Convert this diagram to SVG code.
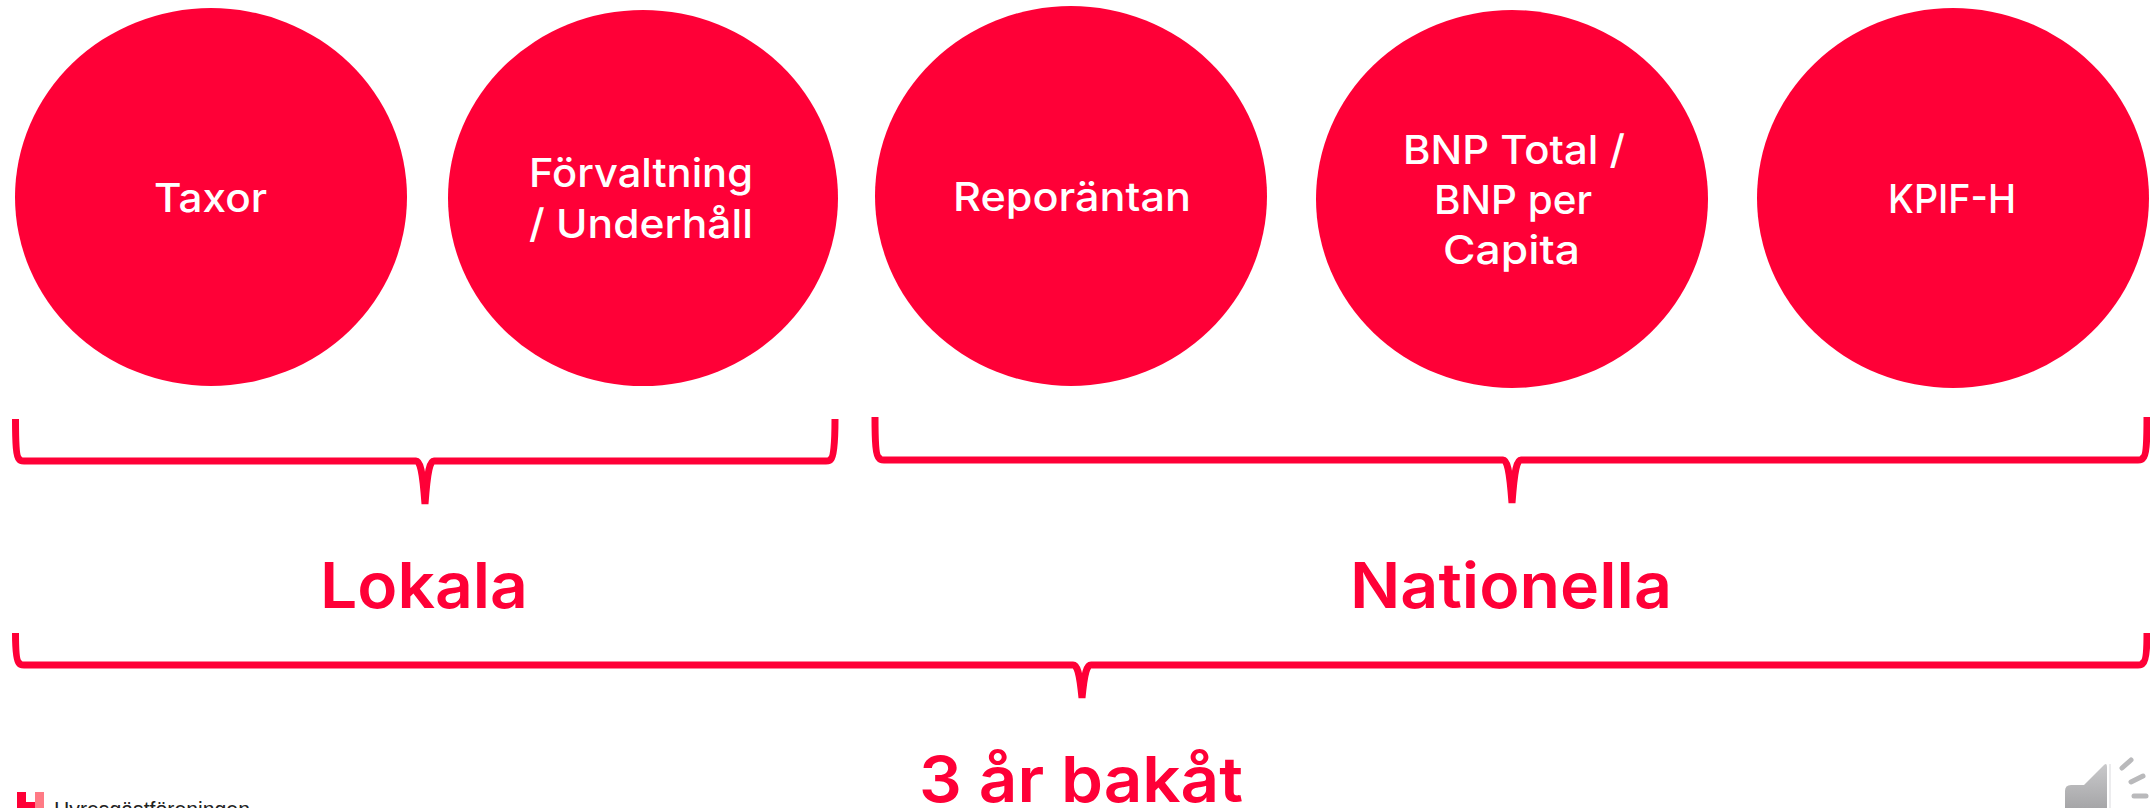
<svg xmlns="http://www.w3.org/2000/svg" width="2150" height="808" viewBox="0 0 2150 808">
<defs>
<style>
.n{fill:#ff0037}
.t{font-family:"Inter","Liberation Sans",sans-serif;font-weight:500;fill:#fff;font-size:40px}
.h{font-family:"Inter","Liberation Sans",sans-serif;font-weight:600;fill:#ff0037;font-size:63px}
.b{fill:none;stroke:#ff0037;stroke-width:7}
</style>
<linearGradient id="g" x1="0" y1="0" x2="0" y2="1"><stop offset="0" stop-color="#c9c9cb"/><stop offset="1" stop-color="#a6a6a8"/></linearGradient>
</defs>
<rect width="2150" height="808" fill="#fff"/>
<g id="node-taxor"><ellipse class="n" cx="211" cy="197" rx="196" ry="189"/><text class="t" x="154" y="212" textLength="113" lengthAdjust="spacingAndGlyphs">Taxor</text></g>
<g id="node-forvaltning"><ellipse class="n" cx="643" cy="198" rx="195" ry="188"/><text class="t" x="529" y="187" textLength="224" lengthAdjust="spacingAndGlyphs">Förvaltning</text><text class="t" x="529" y="238" textLength="224" lengthAdjust="spacingAndGlyphs">/ Underhåll</text></g>
<g id="node-reporantan"><ellipse class="n" cx="1071" cy="196" rx="196" ry="190"/><text class="t" x="953" y="211" textLength="238" lengthAdjust="spacingAndGlyphs">Reporäntan</text></g>
<g id="node-bnp"><ellipse class="n" cx="1512" cy="199" rx="196" ry="189"/><text class="t" x="1403" y="164" textLength="222" lengthAdjust="spacingAndGlyphs">BNP Total /</text><text class="t" x="1434" y="214" textLength="158" lengthAdjust="spacingAndGlyphs">BNP per</text><text class="t" x="1443" y="264" textLength="137" lengthAdjust="spacingAndGlyphs">Capita</text></g>
<g id="node-kpif"><ellipse class="n" cx="1953" cy="198" rx="196" ry="190"/><text class="t" x="1888" y="213" textLength="128" lengthAdjust="spacingAndGlyphs">KPIF-H</text></g>
<g id="connectors">
<path class="b" d="M15.500 419C15.500 445 16.500 457 19 459Q20 461 24 461H416C420 461 422.500 470 425 504C427.500 470 430 461 434 461H826Q830 461 831 459C833.500 457 835 445 835 419"/>
<path class="b" d="M875 417C875 443 876 456 879 458Q880 460 884 460H1503C1507 460 1509.500 469 1512 503C1514.500 469 1517 460 1521 460H2138Q2142 460 2143 458C2146 456 2147 443 2147 417"/>
<path class="b" d="M15.500 633C15.500 650 16.500 661 19 663Q20 665 24 665H1073C1077 665 1079.500 672 1082 698C1084.500 672 1087 665 1091 665H2138Q2142 665 2143 663C2146 661 2147 650 2147 633"/>
</g>
<text class="h" x="320" y="608" textLength="208" lengthAdjust="spacingAndGlyphs">Lokala</text>
<text class="h" x="1350" y="608" textLength="322" lengthAdjust="spacingAndGlyphs">Nationella</text>
<text class="h" x="919" y="802" textLength="324" lengthAdjust="spacingAndGlyphs">3 år bakåt</text>
<g id="logo"><path d="M17 792H26V802H35V808H17Z" fill="#ff0037"/><path d="M35 792H44V808H35V802Z" fill="#ff7a85"/><text x="54" y="817" font-family="Liberation Sans, sans-serif" font-size="22" fill="#222" textLength="196" lengthAdjust="spacingAndGlyphs">Hyresgästföreningen</text></g>
<g id="speaker"><path d="M2071 785H2084L2104 765Q2107 762 2107 767V808H2065V791Q2065 785 2071 785Z" fill="url(#g)"/><path d="M2110 764V808" stroke="#ececee" stroke-width="2"/><g stroke="#b9b9bb" stroke-width="5" stroke-linecap="round"><path d="M2122 768L2131 760"/><path d="M2131 782L2143 776"/><path d="M2134 796H2146"/></g></g>
</svg>
